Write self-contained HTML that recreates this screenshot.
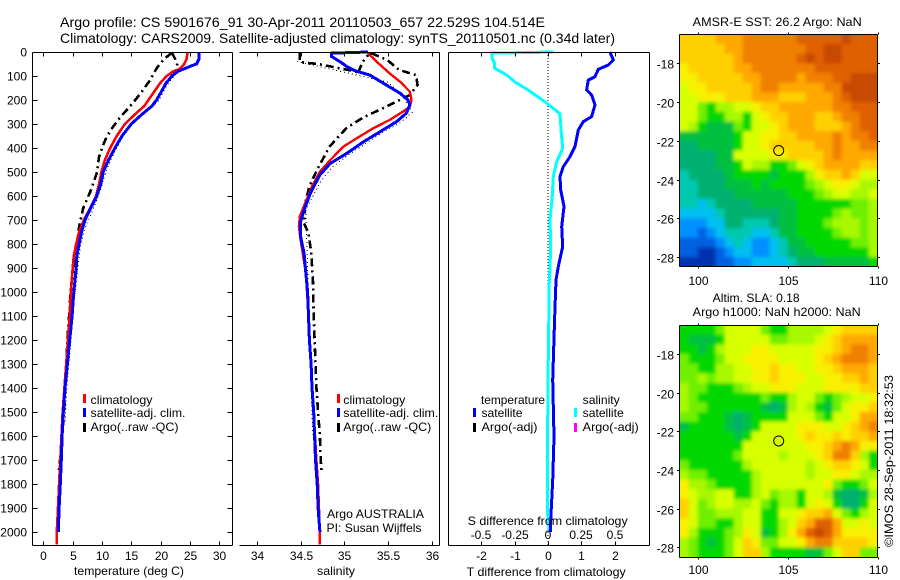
<!DOCTYPE html>
<html>
<head>
<meta charset="utf-8">
<title>Argo profile</title>
<style>
html,body{margin:0;padding:0;background:#fff;width:900px;height:580px;overflow:hidden}
svg{display:block}
text{font-family:"Liberation Sans",sans-serif;font-size:12px;fill:#000}
.t14{font-size:14px}
</style>
</head>
<body>
<svg id="fig" xmlns="http://www.w3.org/2000/svg" width="900" height="580" viewBox="0 0 900 580">
<defs>
<filter id="soften" x="-10%" y="-10%" width="120%" height="120%"><feGaussianBlur stdDeviation="1.8"/></filter>
<clipPath id="clip-sst"><rect x="680" y="34.5" width="197.5" height="232"/></clipPath>
<clipPath id="clip-sla"><rect x="680" y="325.5" width="197.5" height="232"/></clipPath>
</defs>
<rect x="0" y="0" width="900" height="580" fill="#fff"/>
<text class="t14" x="60" y="27" textLength="485" lengthAdjust="spacingAndGlyphs">Argo profile: CS 5901676_91 30-Apr-2011 20110503_657 22.529S 104.514E</text>
<text class="t14" x="60" y="43" textLength="555" lengthAdjust="spacingAndGlyphs">Climatology: CARS2009. Satellite-adjusted climatology: synTS_20110501.nc (0.34d later)</text>
<g id="marks"></g>
<g id="frames"></g>

<text x="74" y="575" textLength="110" lengthAdjust="spacingAndGlyphs">temperature (deg C)</text>
<text x="317" y="575" textLength="38" lengthAdjust="spacingAndGlyphs">salinity</text>
<text x="466.7" y="576" textLength="159" lengthAdjust="spacingAndGlyphs">T difference from climatology</text>
<text x="467.7" y="525" textLength="160" lengthAdjust="spacingAndGlyphs">S difference from climatology</text>

<g>
<rect x="83" y="394" width="3" height="9" fill="#ff0000"/>
<rect x="83" y="408" width="3" height="9" fill="#0000ff"/>
<rect x="83" y="423" width="3" height="9" fill="#000"/>
<text x="90.5" y="404" textLength="62" lengthAdjust="spacingAndGlyphs">climatology</text>
<text x="90.5" y="417" textLength="95" lengthAdjust="spacingAndGlyphs">satellite-adj. clim.</text>
<text x="90.5" y="431" textLength="88" lengthAdjust="spacingAndGlyphs">Argo(..raw -QC)</text>
</g>
<g>
<rect x="337" y="394" width="3" height="9" fill="#ff0000"/>
<rect x="337" y="408" width="3" height="9" fill="#0000ff"/>
<rect x="337" y="423" width="3" height="9" fill="#000"/>
<text x="343.3" y="404" textLength="62" lengthAdjust="spacingAndGlyphs">climatology</text>
<text x="343.3" y="417" textLength="95" lengthAdjust="spacingAndGlyphs">satellite-adj. clim.</text>
<text x="343.3" y="431" textLength="88" lengthAdjust="spacingAndGlyphs">Argo(..raw -QC)</text>
</g>
<text x="327" y="518" textLength="97" lengthAdjust="spacingAndGlyphs">Argo AUSTRALIA</text>
<text x="326.5" y="532" textLength="95" lengthAdjust="spacingAndGlyphs">PI: Susan Wijffels</text>
<g>
<text x="481" y="404" textLength="64" lengthAdjust="spacingAndGlyphs">temperature</text>
<text x="582.7" y="404" textLength="37" lengthAdjust="spacingAndGlyphs">salinity</text>
<rect x="473" y="408" width="3" height="9" fill="#0000ff"/>
<rect x="473" y="423" width="3" height="9" fill="#000"/>
<rect x="574" y="408" width="3" height="9" fill="#00ffff"/>
<rect x="574" y="423" width="3" height="9" fill="#ff00ff"/>
<text x="481.5" y="417" textLength="41" lengthAdjust="spacingAndGlyphs">satellite</text>
<text x="481.5" y="431" textLength="56" lengthAdjust="spacingAndGlyphs">Argo(-adj)</text>
<text x="582.7" y="417" textLength="41" lengthAdjust="spacingAndGlyphs">satellite</text>
<text x="582.7" y="431" textLength="56" lengthAdjust="spacingAndGlyphs">Argo(-adj)</text>
</g>
<text x="692.7" y="26" textLength="169" lengthAdjust="spacingAndGlyphs">AMSR-E SST: 26.2 Argo: NaN</text>
<text x="712.7" y="302" textLength="87" lengthAdjust="spacingAndGlyphs">Altim. SLA: 0.18</text>
<text x="692.7" y="316" textLength="168" lengthAdjust="spacingAndGlyphs">Argo h1000: NaN h2000: NaN</text>
<text transform="translate(893,547) rotate(-90)" x="0" y="0" textLength="172" lengthAdjust="spacingAndGlyphs">©IMOS 28-Sep-2011 18:32:53</text>
</svg>
<script>
// ---- temperature panel data ----
const tempDepthClim = [0,30,50,70,80,100,130,170,200,225,260,300,350,400,450,500,550,600,650,700,750,800,850,900,1000,1100,1200,1300,1400,1500,1600,1700,1800,1900,2000,2053];
const tempClim = [24.6,24.4,24,23.3,22.2,21,19.9,18.75,17.9,17.2,15.6,13.9,12.5,11.4,10.5,9.9,9.5,9,8,6.9,6.1,5.6,5.2,5,4.7,4.5,4.2,3.9,3.6,3.3,3.1,2.9,2.7,2.5,2.3,2.3];
const tempDepthSat = [0,30,50,60,80,100,130,170,200,225,260,300,350,400,450,500,550,600,650,700,750,800,850,900,1000,1100,1200,1300,1400,1500,1600,1700,1800,1900,2000];
const tempSat = [26.5,26.5,26.1,25,23,21.9,20.9,20,19.3,18.5,16.8,15,13.4,12.2,11.1,10.2,9.8,9.1,8.1,7.1,6.5,6.1,5.7,5.6,5.2,4.9,4.5,4.1,3.7,3.4,3.2,3.07,2.9,2.7,2.55];
const tempDepthArgo = [3,31,68,117,158,193,235,262,311,353,387,436,506,582,651,728,811,894,978,1100,1200,1300,1400,1500,1600,1700,1745];
const tempArgo = [21.9,20.5,19.3,18.2,17,15.9,14.5,13.4,11.9,10.8,10.2,9.5,9.1,8,6.8,6.1,5.7,5.2,4.7,4.4,4.1,3.9,3.75,3.55,3.2,2.85,2.65];
const tempDepthArgoSurface = [3,40,78];
const tempArgoSurface = [21.9,22.7,23];
const tempDepthRaw = [78,100,140,170,200,230,270,310,360,410,460,520,600,660,720,800,900,1000,1200,1400,1550];
const tempRaw = [23,22.3,21,20.4,19.8,18.6,16.6,14.8,13.4,12.3,11.3,10.4,9.4,8.4,7.3,6.4,5.9,5.4,4.7,4,3.7];

// ---- salinity panel data ----
const salDepthClim = [5,40,89,124,165,200,228,244,283,318,360,394,450,499,561,631,686,728,783,853,922,1100,1300,1500,1700,1800,1900,2000,2053];
const salClim = [35.27,35.37,35.52,35.64,35.75,35.77,35.75,35.69,35.52,35.33,35.14,34.99,34.84,34.72,34.63,34.55,34.49,34.48,34.5,34.53,34.56,34.59,34.62,34.65,34.68,34.7,34.71,34.72,34.72];
const salDepthSat = [0,5,19,40,61,78,96,137,172,200,221,255,290,332,374,422,464,512,589,658,707,769,839,922,1000,1100,1200,1300,1400,1500,1600,1700,1800,1900,2000];
const salSat = [35.27,34.855,34.855,34.95,35.03,35.12,35.29,35.48,35.64,35.73,35.75,35.71,35.6,35.41,35.22,35.03,34.84,34.72,34.61,34.54,34.5,34.5,34.54,34.56,34.58,34.59,34.6,34.62,34.63,34.65,34.66,34.67,34.69,34.7,34.72];
const salDepthArgo = [5,33,75,96,137,179,228,272,315,394,490,560,630,714,755,833,944,1100,1300,1400,1500,1600,1700,1745];
const salArgo = [35.31,35.49,35.63,35.82,35.84,35.75,35.48,35.22,35.03,34.83,34.69,34.6,34.55,34.54,34.59,34.62,34.64,34.65,34.67,34.68,34.7,34.72,34.73,34.74];
const salDepthArgoSurface = [0,40,43,50,61,76,85];
const salArgoSurface = [34.49,34.49,34.51,34.7,34.85,35.06,35.16];
const salDepthArgoBend = [85,50,20,5];
const salArgoBend = [35.16,35.2,35.25,35.31];
const salDepthRaw = [40,125,180,250,290,340,380,430,480,540,600,660,1400,1500,1600];
const salRaw = [34.46,35.5,35.66,35.78,35.66,35.42,35.25,35.04,34.86,34.73,34.64,34.56,34.62,34.63,34.64];

// ---- difference panel data ----
const diffDepthT = [0,33,54,72,103,117,158,179,221,269,290,325,394,436,478,519,575,644,728,811,894,950,1100,1367,1604,1785,1924,2000];
const diffT = [1.86,1.96,1.81,1.51,1.41,1.21,1.16,1.31,1.41,1.31,1.06,0.91,0.81,0.66,0.46,0.36,0.38,0.48,0.41,0.44,0.31,0.24,0.2,0.14,0.18,0.14,0.09,0.07];
const diffDepthS = [0,5,26,47,68,96,124,158,193,217,258,339,401,457,519,617,700,811,894,950,1367,1785,1910,2000];
const diffS = [0.04,-0.42,-0.42,-0.4,-0.4,-0.31,-0.25,-0.15,-0.06,0,0.09,0.1,0.11,0.065,0.04,0.03,0.015,0.02,0.015,0.01,0,-0.005,-0.005,0.01];

// ---- tick labels ----
const depthTicks = [0,100,200,300,400,500,600,700,800,900,1000,1100,1200,1300,1400,1500,1600,1700,1800,1900,2000];
const tempTicks = [0,5,10,15,20,25,30];
const salTicks = [34,34.5,35,35.5,36];
const diffTTicks = [-2,-1,0,1,2];
const diffSTicks = [-0.5,-0.25,0,0.25,0.5];
const lonTicks = [100,105,110];
const latTicks = [18,20,22,24,26,28];
const stationLon = [104.5];
const stationLat = [22.5];

// ---- map data: one row per 0.5 deg latitude (16.5S down to 28.5S), one character per 0.5 deg longitude (99E to 110E) ----
const mapColors = ['#0030b0','#0060e0','#0090ff','#00c0f0','#00c8b0','#00b070','#00c040','#00d800','#70f000','#a8f800','#d8ff00','#f8f000','#ffd000','#ffa800','#f08000','#e06000','#c84800'];
const sstRows = [
'ccccdddeeeeeefffffgfff',
'cccccddeeeeeeeffggffff',
'ccccccdeeeeeefgfggffff',
'bcccccddeeeeeeefffffff',
'bbcccccddeeeedeeeffggg',
'abbcccccdeedddddeegggg',
'aabbbcccdddcccdddefggg',
'aa8799aabccddddddeefff',
'aa877997abccdddccdeeff',
'a9766687aabcdddcccdeff',
'6666667aabbccddddedeef',
'5566667aabcccccddeddee',
'555566aaaabbccccdedddd',
'5555667a99778abcddddcc',
'455556777767779bccdcaa',
'4455566676777789abba99',
'44555566666677789aa99a',
'4434555566666777777889',
'3333455555566777789889',
'2223355444566777899989',
'2212344433466777789989',
'1111234322346677777889',
'1100123322345667777779',
'0000112233334555666667'
];
const slaRows = [
'77778aaaa8779999abcccc',
'76667aaaaa88999abcdddd',
'77679aaabbaaaaabbcdeed',
'87778aabbbbaaaabcdeeed',
'887799aabbcbbaabbcdddc',
'889899aabbcbbbaabbccdc',
'98877789aabbbaaabbbbcc',
'9877777778779aa8789aab',
'9887777776569a9768abbc',
'887776567777aaa87aabdd',
'677776567aaaabbbaabcde',
'77777767aaaaabcbbcbccd',
'7777777aaaaaaabbcdedbb',
'7777778aaaa9aaabceec97',
'87777779aaaaaa9abccba7',
'988777779aaaaa9aabba99',
'b99877779aaaaaaab8778a',
'ba99aa779a8997aa965569',
'ca89aa99a87997aba7557a',
'ca88999aa77aabccda879a',
'ba88779aa779acdffdaaba',
'b977789ba679bdfgfdbbbb',
'987678acb88aabdeeccccb',
'987778acc97777668acc88'
];

const NS = 'http://www.w3.org/2000/svg';
const marks = document.getElementById('marks');
const frames = document.getElementById('frames');

function make(parent, tag, attrs, txt) {
  const el = document.createElementNS(NS, tag);
  for (const k in attrs) el.setAttribute(k, attrs[k]);
  if (txt !== undefined) el.textContent = txt;
  parent.appendChild(el);
  return el;
}

// axis functions
const xTemp = v => 43.3 + v * 5.87;
const xSal = v => 257 + (v - 34) * 87.3;
const xDiffT = v => 548 + v * 33.3;
const xDiffS = v => 548 + v * 133.2;
const yDepth = d => 52 + d * 0.24;
const xLon = v => 679.7 + (v - 99) * 18;
const yLat1 = v => 34.3 + (v - 16.5) * 19.37;
const yLat2 = v => 325 + (v - 16.5) * 19.33;

function series(name, depths, vals, xf, color, width, dash) {
  const pts = depths.map((d, i) => xf(vals[i]).toFixed(1) + ',' + yDepth(d).toFixed(1)).join(' ');
  const el = make(marks, 'polyline', {points: pts, fill: 'none', stroke: color, 'stroke-width': width, 'shape-rendering': 'crispEdges', 'stroke-linejoin': 'round'});
  if (dash) el.setAttribute('stroke-dasharray', dash);
  
  
}

function line(name, x1, y1, x2, y2) {
  const el = make(frames, 'line', {x1: x1, y1: y1, x2: x2, y2: y2, stroke: '#000', 'stroke-width': 1, 'shape-rendering': 'crispEdges'});
  
  
}

function label(name, x, y, anchor, str) {
  const el = make(frames, 'text', {x: x, y: y, 'text-anchor': anchor}, str);
  
  
}

function heatmap(name, rows, yf, clipId) {
  const outer = make(marks, 'g', {'clip-path': 'url(#' + clipId + ')'});
  
  
  const grp = make(outer, 'g', {filter: 'url(#soften)'});
  
  
  const nRows = rows.length;
  rows.forEach((row, r) => {
    const chars = row.split('');
    const lat0 = 16.5 + r * 0.5;
    chars.forEach((c, i) => {
      const lon0 = 99 + i * 0.5;
      // border cells extend past the clipped frame so blurring keeps the edges solid
      let x = xLon(lon0), y = yf(lat0), w = 0.5 * 18 + 0.6, h = 0.5 * 19.4 + 0.6;
      if (i === 0) { x -= 12; w += 12; }
      if (i === chars.length - 1) { w += 12; }
      if (r === 0) { y -= 12; h += 12; }
      if (r === nRows - 1) { h += 12; }
      const cell = make(grp, 'rect', {x: x.toFixed(1), y: y.toFixed(1), width: w.toFixed(1), height: h.toFixed(1), fill: mapColors[parseInt(c, 36)]});
      
      
    });
  });
}

// maps
heatmap('sst-heatmap', sstRows, yLat1, 'clip-sst');
heatmap('sla-heatmap', slaRows, yLat2, 'clip-sla');

// temperature series
series('temperature-argo-raw', tempDepthRaw, tempRaw, xTemp, '#000', 1, '1 3');
series('temperature-argo-qc', tempDepthArgo, tempArgo, xTemp, '#000', 2.6, '8 4 2 4');
series('temperature-argo-surface', tempDepthArgoSurface, tempArgoSurface, xTemp, '#000', 2.6, '8 4 2 4');
series('temperature-climatology', tempDepthClim, tempClim, xTemp, '#ff0000', 2.6);
series('temperature-satellite-adjusted', tempDepthSat, tempSat, xTemp, '#0000ff', 3);

// salinity series
series('salinity-argo-raw', salDepthRaw, salRaw, xSal, '#000', 1, '1 3');
series('salinity-argo-qc', salDepthArgo, salArgo, xSal, '#000', 2.6, '8 4 2 4');
series('salinity-argo-surface', salDepthArgoSurface, salArgoSurface, xSal, '#000', 2.6, '8 4 2 4');
series('salinity-argo-bend', salDepthArgoBend, salArgoBend, xSal, '#000', 2.6, '8 4 2 4');
series('salinity-climatology', salDepthClim, salClim, xSal, '#ff0000', 2.4);
series('salinity-satellite-adjusted', salDepthSat, salSat, xSal, '#0000ff', 3);

// difference series
const zero = make(marks, 'line', {x1: xDiffT(0), y1: 52, x2: xDiffT(0), y2: 545, stroke: '#000', 'stroke-width': 1, 'stroke-dasharray': '1 2', 'shape-rendering': 'crispEdges'});


series('salinity-difference', diffDepthS, diffS, xDiffS, '#00ffff', 3);
series('temperature-difference', diffDepthT, diffT, xDiffT, '#0000ff', 3);

// panel frames
const TOP = 52.5, BOT = 545.5;
line('temperature-axis-top', 32.5, TOP, 232.5, TOP);
line('temperature-axis-bottom', 32.5, BOT, 232.5, BOT);
line('temperature-axis-left', 32.5, TOP, 32.5, BOT);
line('temperature-axis-right', 232.5, TOP, 232.5, BOT);
line('salinity-axis-top', 239.5, TOP, 439.5, TOP);
line('salinity-axis-bottom', 239.5, BOT, 439.5, BOT);
line('salinity-axis-right', 439.5, TOP, 439.5, BOT);
line('difference-axis-top', 448.5, TOP, 649.5, TOP);
line('difference-axis-bottom', 448.5, BOT, 649.5, BOT);
line('difference-axis-left', 448.5, TOP, 448.5, BOT);
line('difference-axis-right', 649.5, TOP, 649.5, BOT);

depthTicks.forEach(d => {
  const y = Math.round(yDepth(d)) + 0.5;
  line('depth-tick-left', 32.5, y, 37.5, y);
  line('depth-tick-right', 227.5, y, 232.5, y);
  label('depth-tick-label', 27, y + 4, 'end', String(d));
});
tempTicks.forEach(v => {
  const x = Math.round(xTemp(v)) + 0.5;
  line('temperature-tick-top', x, TOP, x, TOP + 4);
  line('temperature-tick-bottom', x, BOT - 4, x, BOT);
  label('temperature-tick-label', x, 560, 'middle', String(v));
});
salTicks.forEach(v => {
  const x = Math.round(xSal(v)) + 0.5;
  line('salinity-tick-top', x, TOP, x, TOP + 4);
  line('salinity-tick-bottom', x, BOT - 4, x, BOT);
  label('salinity-tick-label', x, 560, 'middle', String(v));
});
diffTTicks.forEach(v => {
  const x = Math.round(xDiffT(v)) + 0.5;
  line('difference-tick-top', x, TOP, x, TOP + 4);
  line('difference-tick-bottom', x, BOT - 4, x, BOT);
  label('t-difference-tick-label', x, 560, 'middle', String(v));
});
diffSTicks.forEach(v => {
  label('s-difference-tick-label', Math.round(xDiffS(v)), 539, 'middle', String(v));
});

// map frames
function mapFrame(prefix, top, bottom, yf, labelY) {
  line(prefix + '-frame-top', 679.5, top, 877.5, top);
  line(prefix + '-frame-bottom', 679.5, bottom, 877.5, bottom);
  line(prefix + '-frame-left', 679.5, top, 679.5, bottom);
  line(prefix + '-frame-right', 877.5, top, 877.5, bottom);
  lonTicks.forEach(v => {
    const x = Math.round(xLon(v)) + 0.5;
    line(prefix + '-lon-tick', x, top - 2, x, top);
    line(prefix + '-lon-tick', x, bottom, x, bottom + 2);
    label(prefix + '-lon-label', x, labelY, 'middle', String(v));
  });
  latTicks.forEach(v => {
    const y = Math.round(yf(v)) + 0.5;
    line(prefix + '-lat-tick', 677, y, 679.5, y);
    line(prefix + '-lat-tick', 877.5, y, 880, y);
    label(prefix + '-lat-label', 674, y + 5, 'end', '-' + v);
  });
  const c = make(frames, 'circle', {cx: xLon(stationLon[0]), cy: yf(stationLat[0]), r: 5, fill: 'none', stroke: '#000', 'stroke-width': 1});
  
  
}
mapFrame('sst-map', 34.5, 266.5, yLat1, 285);
mapFrame('sla-map', 325.5, 557.5, yLat2, 574);
</script>
</body>
</html>
